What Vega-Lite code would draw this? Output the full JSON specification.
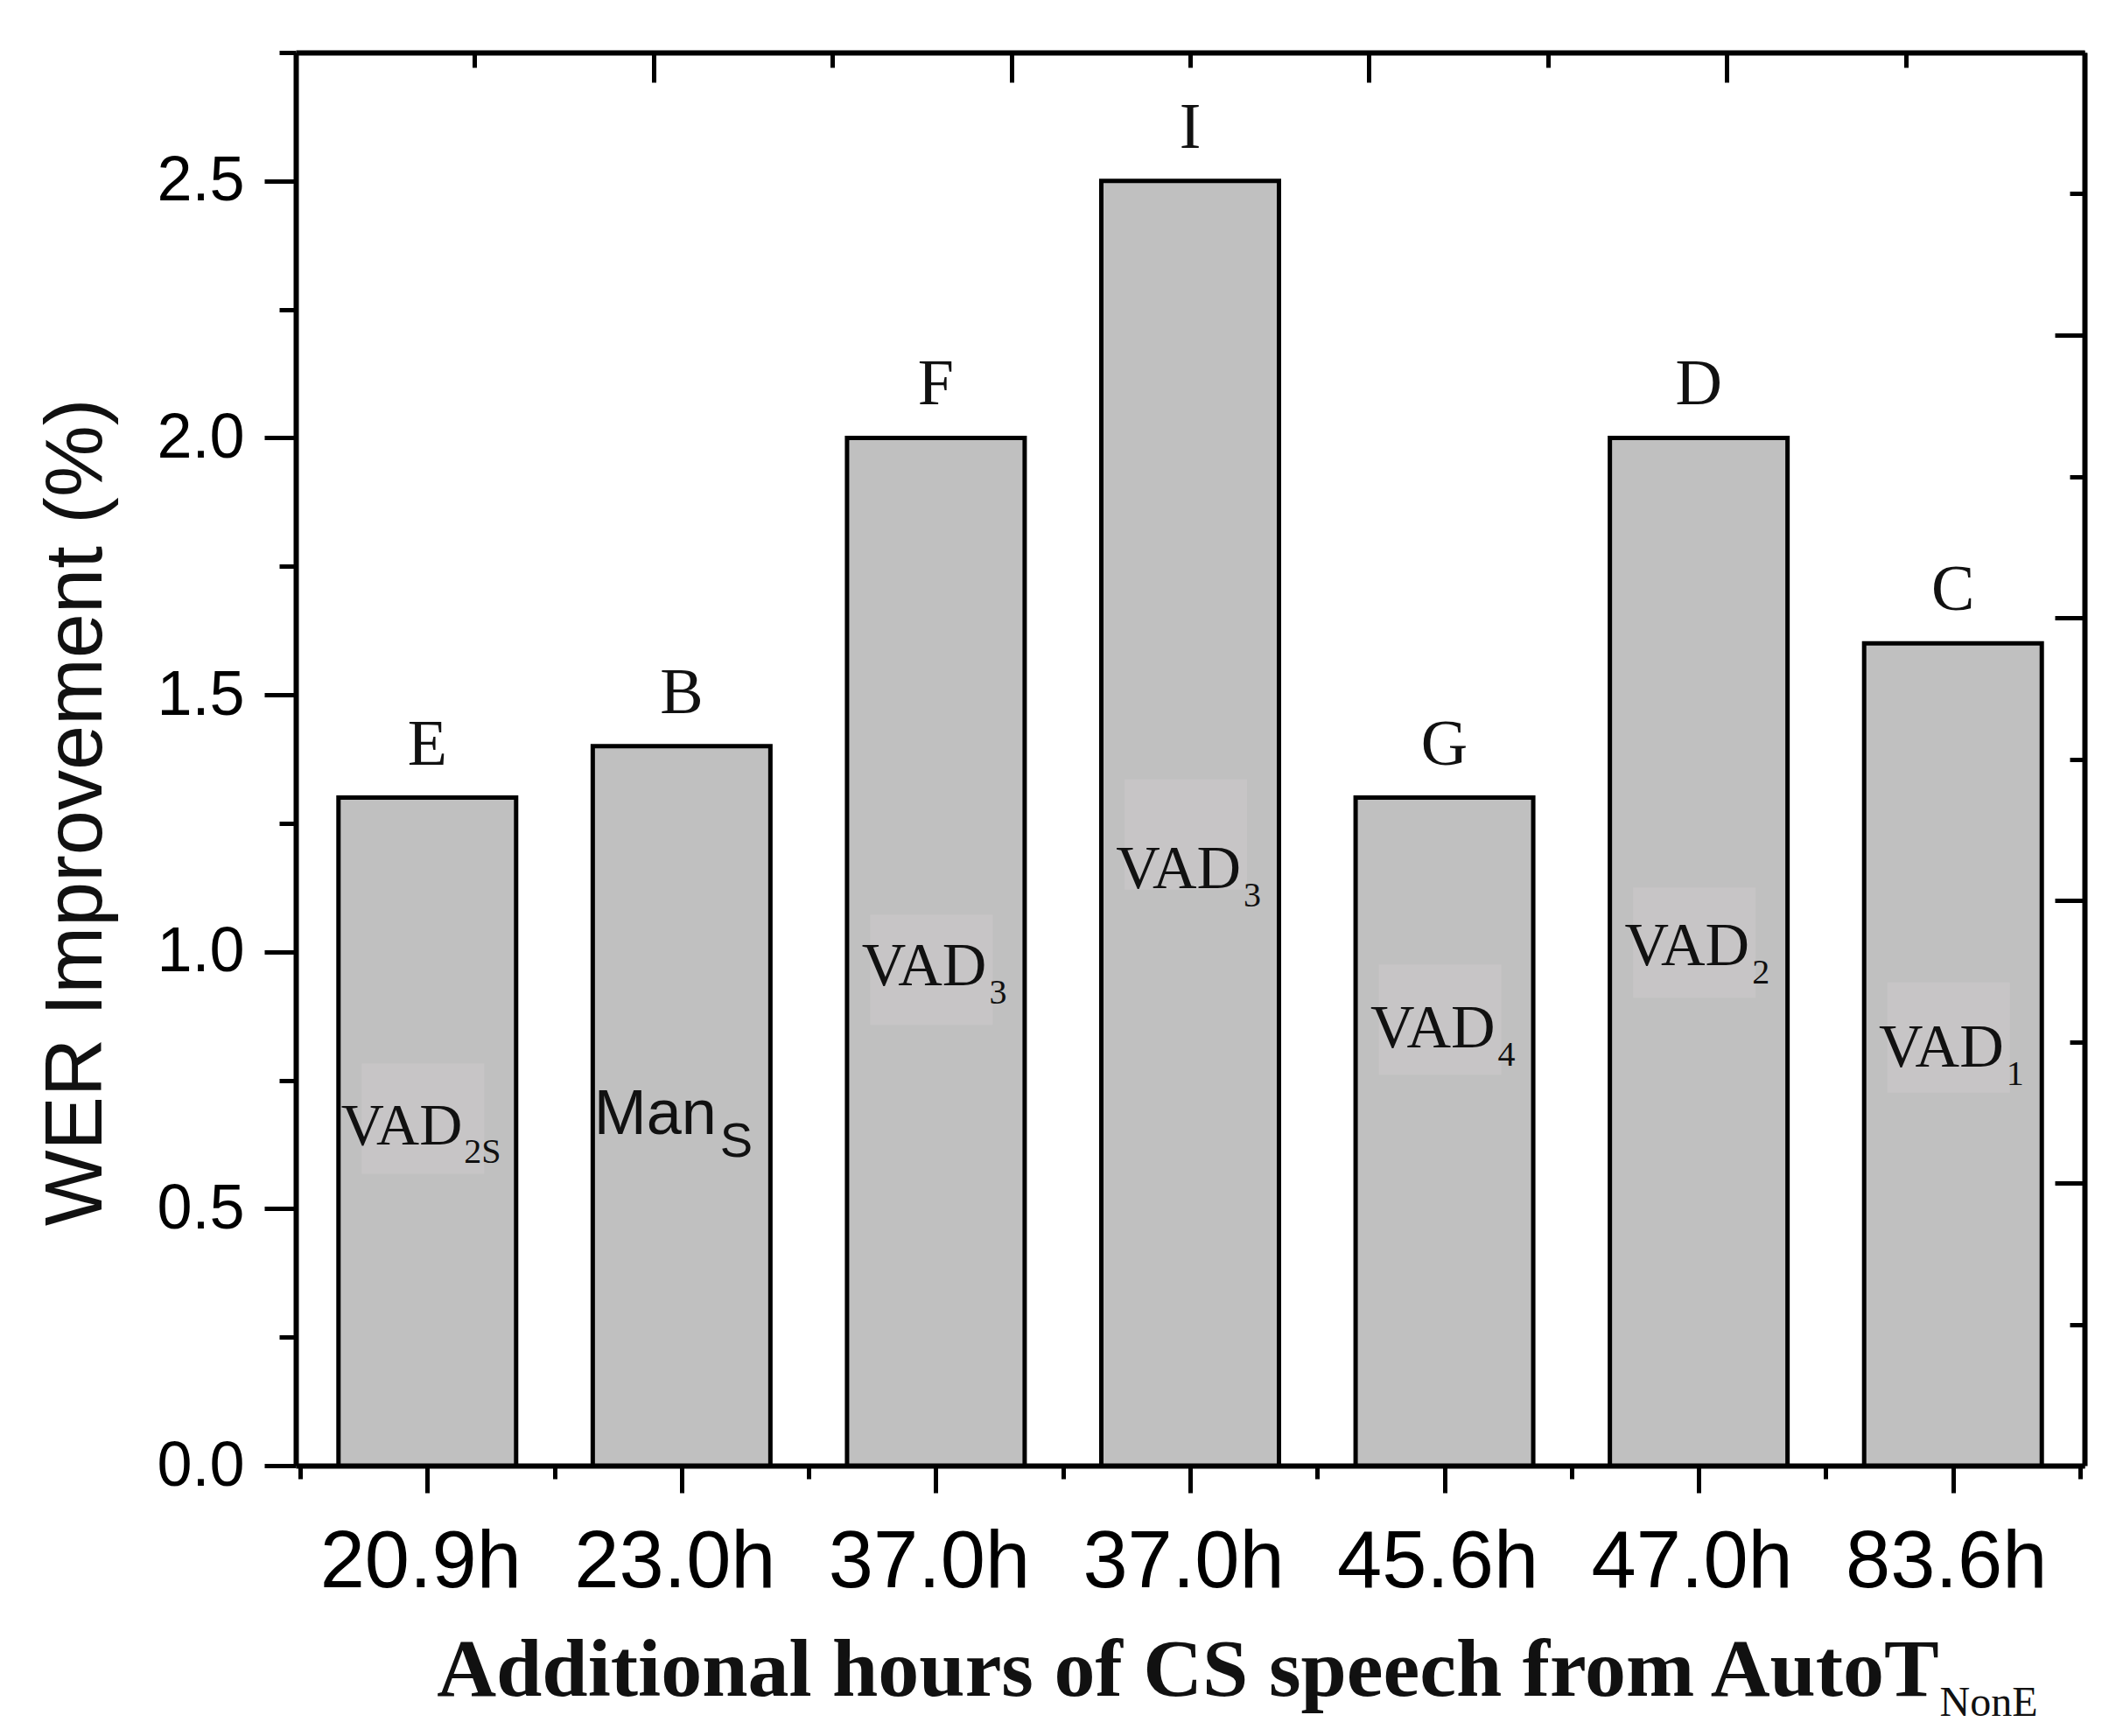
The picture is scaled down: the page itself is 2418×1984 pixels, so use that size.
{
  "$schema": "https://vega.github.io/schema/vega-lite/v6.json",
  "width": 2044,
  "height": 1615,
  "autosize": {"type": "none"},
  "padding": {"left": 338, "top": 60, "right": 36, "bottom": 309},
  "background": "white",
  "datasets": {
    "bars": [
      {"pos": 1, "hours": "20.9h", "wer": 1.3, "letter": "E", "tag": "VAD", "sub": "2S", "tagY": 0.625, "boxY": 0.675},
      {"pos": 2, "hours": "23.0h", "wer": 1.4, "letter": "B", "tag": "Man", "sub": "S", "tagY": 0.645, "boxY": null},
      {"pos": 3, "hours": "37.0h", "wer": 2.0, "letter": "F", "tag": "VAD", "sub": "3", "tagY": 0.935, "boxY": 0.965},
      {"pos": 4, "hours": "37.0h", "wer": 2.5, "letter": "I", "tag": "VAD", "sub": "3", "tagY": 1.124, "boxY": 1.228},
      {"pos": 5, "hours": "45.6h", "wer": 1.3, "letter": "G", "tag": "VAD", "sub": "4", "tagY": 0.814, "boxY": 0.868},
      {"pos": 6, "hours": "47.0h", "wer": 2.0, "letter": "D", "tag": "VAD", "sub": "2", "tagY": 0.974, "boxY": 1.018},
      {"pos": 7, "hours": "83.6h", "wer": 1.6, "letter": "C", "tag": "VAD", "sub": "1", "tagY": 0.776, "boxY": 0.833}
    ]
  },
  "data": {"name": "bars"},
  "layer": [
    {
      "encoding": {
        "x": {
          "field": "pos",
          "type": "quantitative",
          "scale": {"domain": [0.5, 7.5], "nice": false, "zero": false},
          "axis": {
            "values": [0.5, 1, 1.5, 2, 2.5, 3, 3.5, 4, 4.5, 5, 5.5, 6, 6.5, 7, 7.5],
            "labelExpr": "datum.value % 1 === 0 ? ['', '20.9h', '23.0h', '37.0h', '37.0h', '45.6h', '47.0h', '83.6h'][datum.value] : ''",
            "tickSize": {"condition": {"test": "datum.value % 1 === 0", "value": 31}, "value": 15},
            "labelFont": "Liberation Sans",
            "labelFontSize": 92,
            "labelPadding": 34,
            "labelOffset": -8,
            "labelLimit": 0,
            "labelFlush": false,
            "labelOverlap": false,
            "title": "Additional hours of CS speech from AutoT",
            "titleFont": "Liberation Serif",
            "titleFontSize": 94,
            "titleFontWeight": "bold",
            "titleX": 1019,
            "titleY": 262,
            "titleAlign": "center",
            "titleBaseline": "alphabetic",
            "titleLimit": 0
          }
        },
        "y": {
          "field": "wer",
          "type": "quantitative",
          "title": "WER Improvement (%)",
          "scale": {"domain": [0, 2.75], "nice": false},
          "axis": {
            "values": [0, 0.25, 0.5, 0.75, 1, 1.25, 1.5, 1.75, 2, 2.25, 2.5, 2.75],
            "labelExpr": "datum.value % 0.5 === 0 ? format(datum.value, '.1f') : ''",
            "tickSize": {"condition": {"test": "datum.value % 0.5 === 0", "value": 36}, "value": 19},
            "labelFont": "Liberation Sans",
            "labelFontSize": 72,
            "labelPadding": 23,
            "labelFlush": false,
            "labelOverlap": false,
            "titleFont": "Liberation Sans",
            "titleFontSize": 92,
            "titleFontWeight": "normal",
            "titleX": -223,
            "titleY": 868,
            "titleAngle": 270,
            "titleAlign": "center",
            "titleBaseline": "alphabetic",
            "titleLimit": 0
          }
        }
      },
      "layer": [
        {
          "mark": {"type": "bar", "width": 203, "fill": "#c0c0c0", "stroke": "black", "strokeWidth": 5}
        },
        {
          "mark": {"type": "text", "baseline": "alphabetic", "dy": -38, "font": "Liberation Serif", "fontSize": 74, "color": "#111"},
          "encoding": {"text": {"field": "letter"}}
        },
        {
          "transform": [{"filter": "datum.boxY != null"}],
          "mark": {"type": "point", "shape": "M-1,-0.9H1V0.9H-1Z", "filled": true, "size": 19600, "fill": "#c7c5c6", "opacity": 1, "strokeWidth": 0, "xOffset": -5},
          "encoding": {"y": {"field": "boxY", "type": "quantitative", "title": "WER Improvement (%)"}}
        },
        {
          "transform": [{"filter": "datum.pos == 1"}],
          "mark": {"type": "text", "align": "right", "baseline": "alphabetic", "dx": 40, "font": "Liberation Serif", "fontSize": 68, "color": "#111"},
          "encoding": {"y": {"field": "tagY", "type": "quantitative", "title": "WER Improvement (%)"}, "text": {"field": "tag"}}
        },
        {
          "transform": [{"filter": "datum.pos == 1"}],
          "mark": {"type": "text", "align": "left", "baseline": "alphabetic", "dx": 42, "dy": 21, "font": "Liberation Serif", "fontSize": 40, "color": "#111"},
          "encoding": {"y": {"field": "tagY", "type": "quantitative", "title": "WER Improvement (%)"}, "text": {"field": "sub"}}
        },
        {
          "transform": [{"filter": "datum.pos == 2"}],
          "mark": {"type": "text", "align": "right", "baseline": "alphabetic", "dx": 40, "font": "Liberation Sans", "fontSize": 72, "color": "#111"},
          "encoding": {"y": {"field": "tagY", "type": "quantitative", "title": "WER Improvement (%)"}, "text": {"field": "tag"}}
        },
        {
          "transform": [{"filter": "datum.pos == 2"}],
          "mark": {"type": "text", "align": "left", "baseline": "alphabetic", "dx": 44, "dy": 26, "font": "Liberation Sans", "fontSize": 56, "color": "#111"},
          "encoding": {"y": {"field": "tagY", "type": "quantitative", "title": "WER Improvement (%)"}, "text": {"field": "sub"}}
        },
        {
          "transform": [{"filter": "datum.pos >= 3"}],
          "mark": {"type": "text", "align": "right", "baseline": "alphabetic", "dx": 58, "font": "Liberation Serif", "fontSize": 70, "color": "#111"},
          "encoding": {"y": {"field": "tagY", "type": "quantitative", "title": "WER Improvement (%)"}, "text": {"field": "tag"}}
        },
        {
          "transform": [{"filter": "datum.pos >= 3"}],
          "mark": {"type": "text", "align": "left", "baseline": "alphabetic", "dx": 61, "dy": 21, "font": "Liberation Serif", "fontSize": 40, "color": "#111"},
          "encoding": {"y": {"field": "tagY", "type": "quantitative", "title": "WER Improvement (%)"}, "text": {"field": "sub"}}
        }
      ]
    },
    {
      "mark": {"type": "point", "opacity": 0},
      "encoding": {
        "x": {
          "datum": 0,
          "type": "quantitative",
          "scale": {"domain": [0, 10], "nice": false, "zero": false},
          "axis": {
            "orient": "top",
            "values": [0, 1, 2, 3, 4, 5, 6, 7, 8, 9, 10],
            "labels": false,
            "title": "NonE",
            "titleFont": "Liberation Serif",
            "titleFontSize": 48,
            "titleFontWeight": "normal",
            "titleX": 1878,
            "titleY": 1900,
            "titleAlign": "left",
            "titleBaseline": "alphabetic",
            "tickSize": {"condition": {"test": "datum.value % 2 === 0", "value": -34}, "value": -17}
          }
        },
        "y": {
          "datum": 0,
          "type": "quantitative",
          "scale": {"domain": [0, 10], "nice": false, "zero": false},
          "axis": {
            "orient": "right",
            "values": [0, 1, 2, 3, 4, 5, 6, 7, 8, 9, 10],
            "labels": false,
            "title": null,
            "tickSize": {"condition": {"test": "datum.value % 2 === 0", "value": -34}, "value": -17}
          }
        }
      }
    }
  ],
  "resolve": {
    "scale": {"x": "independent", "y": "independent"},
    "axis": {"x": "independent", "y": "independent"}
  },
  "config": {
    "view": {"stroke": null},
    "axis": {
      "grid": false,
      "domainColor": "black",
      "domainWidth": 6,
      "tickColor": "black",
      "tickWidth": 5,
      "labelColor": "black",
      "titleColor": "#111"
    }
  }
}
